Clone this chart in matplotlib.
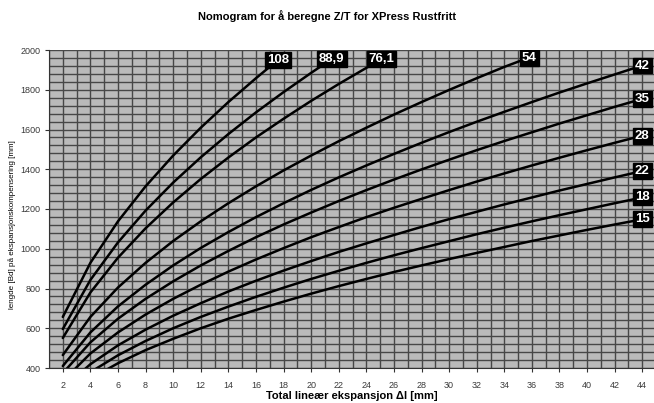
import matplotlib.pyplot as plt
from matplotlib.ticker import MultipleLocator

plt.rcParams['font.family'] = ['Liberation Sans', 'DejaVu Sans']

# pipe dimensions (curve labels)
sizes = ["15", "18", "22", "28", "35", "42", "54", "76,1", "88,9", "108"]

# expansion (mm) -> length (mm), read per curve
x_even = [2, 4, 6, 8, 10, 12, 14, 16, 18, 20, 22, 24, 26, 28, 30, 32, 34, 36, 38, 40, 42, 44]

x_15 = x_even
y_15 = [245, 346, 424, 490, 547, 600, 648, 692, 734, 774, 812, 848, 883, 916, 948, 979,
        1009, 1039, 1067, 1095, 1122, 1148]

x_18 = x_even
y_18 = [268, 379, 464, 536, 600, 657, 709, 758, 804, 848, 889, 929, 967, 1003, 1038, 1073,
        1106, 1138, 1169, 1199, 1229, 1258]

x_22 = x_even
y_22 = [297, 419, 514, 593, 663, 726, 785, 839, 890, 938, 984, 1027, 1069, 1110, 1149, 1186,
        1223, 1258, 1293, 1326, 1359, 1391]

x_28 = x_even
y_28 = [334, 473, 579, 669, 748, 819, 885, 946, 1003, 1058, 1109, 1159, 1206, 1251, 1295, 1338,
        1379, 1419, 1458, 1496, 1533, 1569]

x_35 = x_even
y_35 = [374, 529, 648, 748, 836, 916, 989, 1058, 1122, 1182, 1240, 1295, 1348, 1399, 1448, 1496,
        1542, 1586, 1630, 1672, 1714, 1754]

x_42 = x_even
y_42 = [410, 579, 710, 819, 916, 1004, 1084, 1159, 1229, 1296, 1359, 1419, 1477, 1533, 1587, 1639,
        1689, 1738, 1786, 1832, 1877, 1922]

x_54 = [2, 4, 6, 8, 10, 12, 14, 16, 18, 20, 22, 24, 26, 28, 30, 32, 34, 35.8]
y_54 = [465, 657, 805, 929, 1039, 1138, 1229, 1314, 1394, 1469, 1541, 1609, 1675, 1738, 1799, 1858,
        1915, 1962]

x_76 = [2, 4, 6, 8, 10, 12, 14, 16, 18, 20, 22, 24, 25.1]
y_76 = [551, 780, 955, 1103, 1233, 1351, 1459, 1560, 1654, 1744, 1829, 1910, 1955]

x_89 = [2, 4, 6, 8, 10, 12, 14, 16, 18, 20, 21.5]
y_89 = [596, 843, 1032, 1192, 1333, 1460, 1577, 1686, 1788, 1885, 1955]

x_108 = [2, 4, 6, 8, 10, 12, 14, 16, 17.6]
y_108 = [657, 929, 1138, 1314, 1469, 1609, 1738, 1858, 1950]

curves = [(x_15, y_15), (x_18, y_18), (x_22, y_22), (x_28, y_28), (x_35, y_35),
          (x_42, y_42), (x_54, y_54), (x_76, y_76), (x_89, y_89), (x_108, y_108)]

x_ticks = list(range(2, 46, 2))
y_ticks = list(range(400, 2001, 200))

fig = plt.figure(figsize=(6.54, 4.03), dpi=100)
ax = fig.add_axes([49 / 654, 35 / 403, 605 / 654, 318 / 403])
ax.set_facecolor("#bababa")

ax.set_xlim(1, 44.85)
ax.set_ylim(400, 2000)

# dense grid: every mm horizontally, every 40 mm vertically
ax.xaxis.set_minor_locator(MultipleLocator(1))
ax.yaxis.set_minor_locator(MultipleLocator(40))
ax.grid(which="both", color="#474747", linewidth=1.0)
ax.set_axisbelow(True)

for (xs, ys), name in zip(curves, sizes):
    ax.plot(xs, ys, color="black", linewidth=1.8, solid_capstyle="round")
    ax.text(xs[-1], ys[-1], name, ha="center", va="center", color="white",
            fontsize=9.5, fontweight="bold",
            bbox=dict(boxstyle="square,pad=0.15", facecolor="black", edgecolor="black"),
            clip_on=True)

ax.set_xticks(x_ticks)
ax.set_yticks(y_ticks)
ax.tick_params(which="major", direction="out", length=3, width=0.8, color="#333333",
               labelsize=6.5, labelcolor="#3a3a3a", pad=3)
ax.tick_params(which="minor", length=0)
ax.tick_params(axis="x", pad=6)

for side in ["top", "right"]:
    ax.spines[side].set_visible(False)
ax.spines["left"].set_color("#333333")
ax.spines["bottom"].set_color("#333333")

fig.text(327 / 654, 1 - 16 / 403, "Nomogram for å beregne Z/T for XPress Rustfritt",
         ha="center", va="center", fontsize=8, fontweight="bold")
ax.set_xlabel("Total lineær ekspansjon Δl [mm]", fontsize=8, fontweight="bold", labelpad=1)
ax.set_ylabel("lengde [Bd] på ekspansjonskompensering [mm]", fontsize=5.8)
ax.yaxis.set_label_coords(-0.054, 0.45)

fig.savefig("out.png", dpi=100)
